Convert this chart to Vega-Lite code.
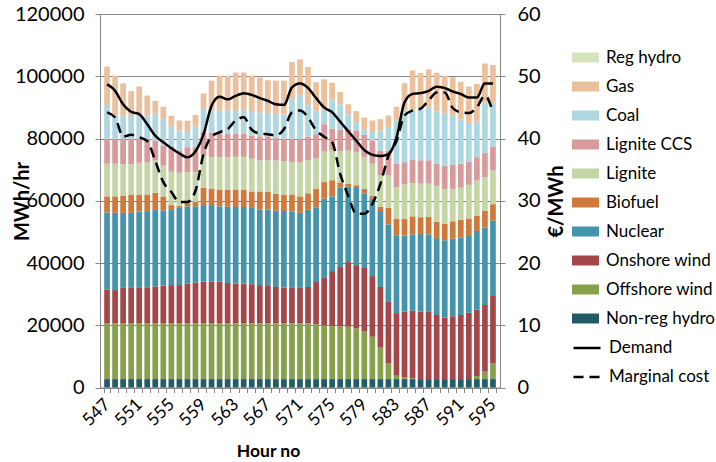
{
  "$schema": "https://vega.github.io/schema/vega-lite/v6.json",
  "width": 400,
  "height": 373.5,
  "autosize": {"type": "none"},
  "padding": {"left": 100, "top": 14, "right": 216, "bottom": 74.5},
  "background": "white",
  "config": {
    "font": "Lato",
    "view": {"stroke": null},
    "axis": {"labelColor": "black", "titleColor": "black", "labelFont": "Lato", "titleFont": "Lato"},
    "legend": {"labelFont": "Lato"}
  },
  "datasets": {
    "gen": [
      {"h":547,"Non-reg hydro":2700,"Offshore wind":17900,"Onshore wind":10900,"Nuclear":24700,"Biofuel":5200,"Lignite":10500,"Lignite CCS":8000,"Coal":10900,"Gas":12300,"Demand":97400,"Marginal cost":44.2},
      {"h":548,"Non-reg hydro":2700,"Offshore wind":17900,"Onshore wind":10700,"Nuclear":24900,"Biofuel":5200,"Lignite":10500,"Lignite CCS":8000,"Coal":7500,"Gas":12800,"Demand":95300,"Marginal cost":43.4},
      {"h":549,"Non-reg hydro":2700,"Offshore wind":17900,"Onshore wind":11400,"Nuclear":24100,"Biofuel":5600,"Lignite":10100,"Lignite CCS":8000,"Coal":7400,"Gas":10500,"Demand":91000,"Marginal cost":40.3},
      {"h":550,"Non-reg hydro":2700,"Offshore wind":17900,"Onshore wind":11400,"Nuclear":24100,"Biofuel":5800,"Lignite":9900,"Lignite CCS":8000,"Coal":7400,"Gas":8000,"Demand":88600,"Marginal cost":40.6},
      {"h":551,"Non-reg hydro":2700,"Offshore wind":17900,"Onshore wind":11400,"Nuclear":24500,"Biofuel":5400,"Lignite":10300,"Lignite CCS":7700,"Coal":7400,"Gas":9400,"Demand":87800,"Marginal cost":40.2},
      {"h":552,"Non-reg hydro":2700,"Offshore wind":17900,"Onshore wind":11600,"Nuclear":24200,"Biofuel":5600,"Lignite":10400,"Lignite CCS":7500,"Coal":7400,"Gas":6500,"Demand":84600,"Marginal cost":39.6},
      {"h":553,"Non-reg hydro":2700,"Offshore wind":17900,"Onshore wind":11900,"Nuclear":24500,"Biofuel":5600,"Lignite":10300,"Lignite CCS":6300,"Coal":8900,"Gas":4000,"Demand":80900,"Marginal cost":36.4},
      {"h":554,"Non-reg hydro":2700,"Offshore wind":17900,"Onshore wind":12100,"Nuclear":24200,"Biofuel":4300,"Lignite":10100,"Lignite CCS":6400,"Coal":8500,"Gas":4000,"Demand":78800,"Marginal cost":33.0},
      {"h":555,"Non-reg hydro":2700,"Offshore wind":17900,"Onshore wind":12300,"Nuclear":24400,"Biofuel":1300,"Lignite":10700,"Lignite CCS":8000,"Coal":6600,"Gas":3400,"Demand":76900,"Marginal cost":31.4},
      {"h":556,"Non-reg hydro":2700,"Offshore wind":17900,"Onshore wind":12300,"Nuclear":24800,"Biofuel":600,"Lignite":10700,"Lignite CCS":7200,"Coal":6400,"Gas":3200,"Demand":75200,"Marginal cost":29.8},
      {"h":557,"Non-reg hydro":2700,"Offshore wind":17900,"Onshore wind":12800,"Nuclear":24800,"Biofuel":1100,"Lignite":9900,"Lignite CCS":8000,"Coal":4800,"Gas":3700,"Demand":74000,"Marginal cost":29.8},
      {"h":558,"Non-reg hydro":2700,"Offshore wind":17900,"Onshore wind":13100,"Nuclear":24500,"Biofuel":1400,"Lignite":9600,"Lignite CCS":8000,"Coal":6600,"Gas":3800,"Demand":75900,"Marginal cost":31.6},
      {"h":559,"Non-reg hydro":2700,"Offshore wind":17900,"Onshore wind":13400,"Nuclear":24600,"Biofuel":5600,"Lignite":10500,"Lignite CCS":7500,"Coal":7300,"Gas":5000,"Demand":81400,"Marginal cost":37.5},
      {"h":560,"Non-reg hydro":2700,"Offshore wind":17900,"Onshore wind":13400,"Nuclear":24600,"Biofuel":5300,"Lignite":10100,"Lignite CCS":7800,"Coal":7200,"Gas":9600,"Demand":90500,"Marginal cost":40.3},
      {"h":561,"Non-reg hydro":2700,"Offshore wind":17900,"Onshore wind":13400,"Nuclear":24200,"Biofuel":5400,"Lignite":10400,"Lignite CCS":7700,"Coal":7300,"Gas":11200,"Demand":93400,"Marginal cost":41.0},
      {"h":562,"Non-reg hydro":2700,"Offshore wind":17900,"Onshore wind":13000,"Nuclear":24600,"Biofuel":5400,"Lignite":10400,"Lignite CCS":7500,"Coal":7500,"Gas":11200,"Demand":92600,"Marginal cost":41.5},
      {"h":563,"Non-reg hydro":2700,"Offshore wind":17900,"Onshore wind":12800,"Nuclear":24600,"Biofuel":5600,"Lignite":10500,"Lignite CCS":7500,"Coal":7500,"Gas":12100,"Demand":93700,"Marginal cost":42.9},
      {"h":564,"Non-reg hydro":2700,"Offshore wind":17900,"Onshore wind":12800,"Nuclear":24600,"Biofuel":5600,"Lignite":10500,"Lignite CCS":7500,"Coal":7500,"Gas":12100,"Demand":94500,"Marginal cost":43.4},
      {"h":565,"Non-reg hydro":2700,"Offshore wind":17900,"Onshore wind":12600,"Nuclear":24500,"Biofuel":5300,"Lignite":10500,"Lignite CCS":7400,"Coal":7600,"Gas":11700,"Demand":94000,"Marginal cost":41.4},
      {"h":566,"Non-reg hydro":2700,"Offshore wind":17900,"Onshore wind":12300,"Nuclear":24200,"Biofuel":5900,"Lignite":10000,"Lignite CCS":7700,"Coal":7700,"Gas":11200,"Demand":93000,"Marginal cost":40.8},
      {"h":567,"Non-reg hydro":2700,"Offshore wind":17900,"Onshore wind":12000,"Nuclear":24600,"Biofuel":5700,"Lignite":10100,"Lignite CCS":7700,"Coal":7500,"Gas":10500,"Demand":92100,"Marginal cost":40.7},
      {"h":568,"Non-reg hydro":2700,"Offshore wind":17900,"Onshore wind":11700,"Nuclear":24600,"Biofuel":5300,"Lignite":10700,"Lignite CCS":7300,"Coal":7700,"Gas":10700,"Demand":91000,"Marginal cost":40.5},
      {"h":569,"Non-reg hydro":2700,"Offshore wind":17900,"Onshore wind":11500,"Nuclear":24600,"Biofuel":5300,"Lignite":10700,"Lignite CCS":7200,"Coal":7800,"Gas":10900,"Demand":90800,"Marginal cost":41.5},
      {"h":570,"Non-reg hydro":2700,"Offshore wind":17900,"Onshore wind":11400,"Nuclear":24600,"Biofuel":5400,"Lignite":10400,"Lignite CCS":7500,"Coal":12800,"Gas":11900,"Demand":96400,"Marginal cost":44.2},
      {"h":571,"Non-reg hydro":2700,"Offshore wind":17900,"Onshore wind":11400,"Nuclear":24100,"Biofuel":5300,"Lignite":10900,"Lignite CCS":7500,"Coal":13900,"Gas":11700,"Demand":97700,"Marginal cost":44.5},
      {"h":572,"Non-reg hydro":2700,"Offshore wind":17900,"Onshore wind":11700,"Nuclear":24800,"Biofuel":5300,"Lignite":10700,"Lignite CCS":7500,"Coal":10100,"Gas":12300,"Demand":96200,"Marginal cost":43.4},
      {"h":573,"Non-reg hydro":2700,"Offshore wind":17600,"Onshore wind":13600,"Nuclear":24000,"Biofuel":5900,"Lignite":9900,"Lignite CCS":7700,"Coal":7500,"Gas":9200,"Demand":93000,"Marginal cost":41.3},
      {"h":574,"Non-reg hydro":2700,"Offshore wind":17300,"Onshore wind":15200,"Nuclear":25500,"Biofuel":5300,"Lignite":9800,"Lignite CCS":8800,"Coal":4500,"Gas":9900,"Demand":90000,"Marginal cost":40.3},
      {"h":575,"Non-reg hydro":2700,"Offshore wind":17100,"Onshore wind":17600,"Nuclear":24000,"Biofuel":5200,"Lignite":9600,"Lignite CCS":6900,"Coal":9400,"Gas":5400,"Demand":88400,"Marginal cost":39.4},
      {"h":576,"Non-reg hydro":2700,"Offshore wind":17100,"Onshore wind":18900,"Nuclear":25600,"Biofuel":1600,"Lignite":10100,"Lignite CCS":6900,"Coal":8000,"Gas":4100,"Demand":85400,"Marginal cost":34.3},
      {"h":577,"Non-reg hydro":2700,"Offshore wind":16800,"Onshore wind":20800,"Nuclear":24200,"Biofuel":900,"Lignite":10700,"Lignite CCS":6900,"Coal":4800,"Gas":3200,"Demand":82300,"Marginal cost":30.8},
      {"h":578,"Non-reg hydro":2700,"Offshore wind":16300,"Onshore wind":20300,"Nuclear":24800,"Biofuel":900,"Lignite":10700,"Lignite CCS":6900,"Coal":2700,"Gas":3500,"Demand":79300,"Marginal cost":27.9},
      {"h":579,"Non-reg hydro":2700,"Offshore wind":15400,"Onshore wind":20300,"Nuclear":24000,"Biofuel":1400,"Lignite":10100,"Lignite CCS":7300,"Coal":1800,"Gas":3700,"Demand":76300,"Marginal cost":27.9},
      {"h":580,"Non-reg hydro":2700,"Offshore wind":13600,"Onshore wind":19500,"Nuclear":24800,"Biofuel":900,"Lignite":10400,"Lignite CCS":7500,"Coal":2700,"Gas":3700,"Demand":74800,"Marginal cost":29.5},
      {"h":581,"Non-reg hydro":2700,"Offshore wind":10100,"Onshore wind":19500,"Nuclear":24400,"Biofuel":1300,"Lignite":10100,"Lignite CCS":8000,"Coal":6400,"Gas":3700,"Demand":74400,"Marginal cost":32.7},
      {"h":582,"Non-reg hydro":2700,"Offshore wind":5000,"Onshore wind":19800,"Nuclear":24900,"Biofuel":5300,"Lignite":10400,"Lignite CCS":8000,"Coal":7300,"Gas":4000,"Demand":75000,"Marginal cost":37.2},
      {"h":583,"Non-reg hydro":2700,"Offshore wind":1100,"Onshore wind":20100,"Nuclear":25000,"Biofuel":5300,"Lignite":10100,"Lignite CCS":7500,"Coal":13900,"Gas":4500,"Demand":80400,"Marginal cost":39.6},
      {"h":584,"Non-reg hydro":2700,"Offshore wind":600,"Onshore wind":21100,"Nuclear":24400,"Biofuel":5400,"Lignite":11000,"Lignite CCS":7200,"Coal":16600,"Gas":8700,"Demand":91600,"Marginal cost":43.7},
      {"h":585,"Non-reg hydro":2700,"Offshore wind":300,"Onshore wind":21700,"Nuclear":24500,"Biofuel":5800,"Lignite":10700,"Lignite CCS":7500,"Coal":16000,"Gas":12700,"Demand":94300,"Marginal cost":44.5},
      {"h":586,"Non-reg hydro":2700,"Offshore wind":0,"Onshore wind":21700,"Nuclear":24900,"Biofuel":5400,"Lignite":10800,"Lignite CCS":7500,"Coal":16400,"Gas":11600,"Demand":94600,"Marginal cost":44.8},
      {"h":587,"Non-reg hydro":2700,"Offshore wind":0,"Onshore wind":21600,"Nuclear":24900,"Biofuel":5600,"Lignite":10700,"Lignite CCS":7500,"Coal":16900,"Gas":12300,"Demand":95300,"Marginal cost":46.1},
      {"h":588,"Non-reg hydro":2700,"Offshore wind":0,"Onshore wind":20600,"Nuclear":24700,"Biofuel":5300,"Lignite":11500,"Lignite CCS":7200,"Coal":16700,"Gas":12400,"Demand":96600,"Marginal cost":47.4},
      {"h":589,"Non-reg hydro":2700,"Offshore wind":0,"Onshore wind":19800,"Nuclear":24800,"Biofuel":5300,"Lignite":11100,"Lignite CCS":7600,"Coal":16800,"Gas":12100,"Demand":96200,"Marginal cost":47.4},
      {"h":590,"Non-reg hydro":2700,"Offshore wind":0,"Onshore wind":20200,"Nuclear":24900,"Biofuel":5600,"Lignite":10400,"Lignite CCS":7700,"Coal":15900,"Gas":12300,"Demand":95100,"Marginal cost":44.9},
      {"h":591,"Non-reg hydro":2700,"Offshore wind":0,"Onshore wind":20600,"Nuclear":24800,"Biofuel":5800,"Lignite":10300,"Lignite CCS":7700,"Coal":14100,"Gas":12200,"Demand":94300,"Marginal cost":44.2},
      {"h":592,"Non-reg hydro":2700,"Offshore wind":0,"Onshore wind":21300,"Nuclear":24700,"Biofuel":5600,"Lignite":10800,"Lignite CCS":7500,"Coal":12400,"Gas":11700,"Demand":93200,"Marginal cost":44.1},
      {"h":593,"Non-reg hydro":2700,"Offshore wind":1000,"Onshore wind":21300,"Nuclear":25300,"Biofuel":4800,"Lignite":11400,"Lignite CCS":7500,"Coal":11400,"Gas":12200,"Demand":93200,"Marginal cost":45.0},
      {"h":594,"Non-reg hydro":2700,"Offshore wind":2400,"Onshore wind":21400,"Nuclear":24900,"Biofuel":5300,"Lignite":10900,"Lignite CCS":7700,"Coal":16300,"Gas":12500,"Demand":97700,"Marginal cost":46.9},
      {"h":595,"Non-reg hydro":2700,"Offshore wind":5000,"Onshore wind":21700,"Nuclear":24200,"Biofuel":5300,"Lignite":10900,"Lignite CCS":7500,"Coal":14200,"Gas":12100,"Demand":97700,"Marginal cost":44.2}
    ],
    "order": [
      {"source": "Non-reg hydro", "k": 0},
      {"source": "Offshore wind", "k": 1},
      {"source": "Onshore wind", "k": 2},
      {"source": "Nuclear", "k": 3},
      {"source": "Biofuel", "k": 4},
      {"source": "Lignite", "k": 5},
      {"source": "Lignite CCS", "k": 6},
      {"source": "Coal", "k": 7},
      {"source": "Gas", "k": 8},
      {"source": "Reg hydro", "k": 9}
    ]
  },
  "data": {"name": "gen"},
  "encoding": {
    "x": {
      "field": "h",
      "type": "ordinal",
      "scale": {"paddingInner": 0.29, "paddingOuter": 0.52},
      "axis": {
        "title": "Hour no",
        "labelAngle": -45,
        "labelAlign": "right",
        "labelBaseline": "middle",
        "labelExpr": "(datum.value - 547) % 4 == 0 ? datum.label : ''",
        "labelFontSize": 17.5,
        "labelPadding": 9,
        "tickBand": "extent",
        "tickSize": 5,
        "tickColor": "#868686",
        "domainColor": "#868686",
        "titleFontSize": 17.5,
        "titleFontWeight": "bold",
        "titleX": 168,
        "titleY": 64,
        "titleBaseline": "middle",
        "titleAlign": "center"
      }
    }
  },
  "layer": [
    {
      "transform": [
        {"fold": ["Non-reg hydro", "Offshore wind", "Onshore wind", "Nuclear", "Biofuel", "Lignite", "Lignite CCS", "Coal", "Gas"], "as": ["source", "value"]},
        {"lookup": "source", "from": {"data": {"name": "order"}, "key": "source", "fields": ["k"]}}
      ],
      "mark": {"type": "bar"},
      "encoding": {
        "y": {
          "field": "value",
          "type": "quantitative",
          "stack": "zero",
          "scale": {"domain": [0, 120000], "nice": false},
          "axis": {
            "orient": "left",
            "title": "MWh/hr",
            "values": [0, 20000, 40000, 60000, 80000, 100000, 120000],
            "format": "d",
            "grid": true,
            "gridColor": "#868686",
            "domainColor": "#868686",
            "tickColor": "#868686",
            "tickSize": 5,
            "labelFontSize": 20,
            "labelPadding": 11,
            "titleFontSize": 20,
            "titleFontWeight": "bold",
            "titleAngle": 270,
            "titleX": -78,
            "titleY": 187,
            "titleAlign": "center",
            "titleBaseline": "middle"
          }
        },
        "color": {
          "field": "source",
          "type": "nominal",
          "scale": {
            "domain": ["Reg hydro", "Gas", "Coal", "Lignite CCS", "Lignite", "Biofuel", "Nuclear", "Onshore wind", "Offshore wind", "Non-reg hydro"],
            "range": ["#D6E4BE", "#EBC19D", "#AFD7E1", "#D99A9C", "#C4D5A6", "#CF7A3A", "#4494AC", "#A4474A", "#87A04C", "#235B6A"]
          },
          "legend": {
            "orient": "none",
            "legendX": 472,
            "legendY": 30,
            "title": null,
            "padding": 0,
            "symbolType": "M-1,-0.37H1V0.37H-1Z",
            "symbolSize": 729,
            "symbolStrokeWidth": 0,
            "labelFontSize": 17,
            "labelColor": "black",
            "labelOffset": 7,
            "rowPadding": 7,
            "labelLimit": 200
          }
        },
        "order": {"field": "k", "type": "quantitative", "sort": "ascending"}
      }
    },
    {
      "mark": {"type": "line", "color": "black", "strokeWidth": 2.5, "interpolate": "monotone"},
      "encoding": {
        "y": {"field": "Demand", "type": "quantitative", "scale": {"domain": [0, 120000], "nice": false}, "axis": null},
        "strokeDash": {
          "datum": "Demand",
          "type": "nominal",
          "scale": {"domain": ["Demand", "Marginal cost"], "range": [[1, 0], [10, 6]]},
          "legend": {
            "orient": "none",
            "legendX": 472,
            "legendY": 319,
            "title": null,
            "padding": 0,
            "symbolType": "stroke",
            "symbolSize": 729,
            "symbolStrokeColor": "black",
            "symbolStrokeWidth": 2.5,
            "labelFontSize": 17,
            "labelColor": "black",
            "labelOffset": 7,
            "rowPadding": 6,
            "labelLimit": 200
          }
        }
      }
    },
    {
      "mark": {"type": "line", "color": "black", "strokeWidth": 2.5, "interpolate": "monotone"},
      "encoding": {
        "y": {
          "field": "Marginal cost",
          "type": "quantitative",
          "scale": {"domain": [0, 60], "nice": false},
          "axis": {
            "orient": "right",
            "title": "€/MWh",
            "values": [0, 10, 20, 30, 40, 50, 60],
            "grid": false,
            "domainColor": "#868686",
            "tickColor": "#868686",
            "tickSize": 5,
            "labelFontSize": 20,
            "labelPadding": 12,
            "titleFontSize": 20,
            "titleFontWeight": "bold",
            "titleAngle": 270,
            "titleX": 56,
            "titleY": 187,
            "titleAlign": "center",
            "titleBaseline": "middle"
          }
        },
        "strokeDash": {"datum": "Marginal cost", "type": "nominal"}
      }
    }
  ],
  "resolve": {"scale": {"y": "independent"}}
}
